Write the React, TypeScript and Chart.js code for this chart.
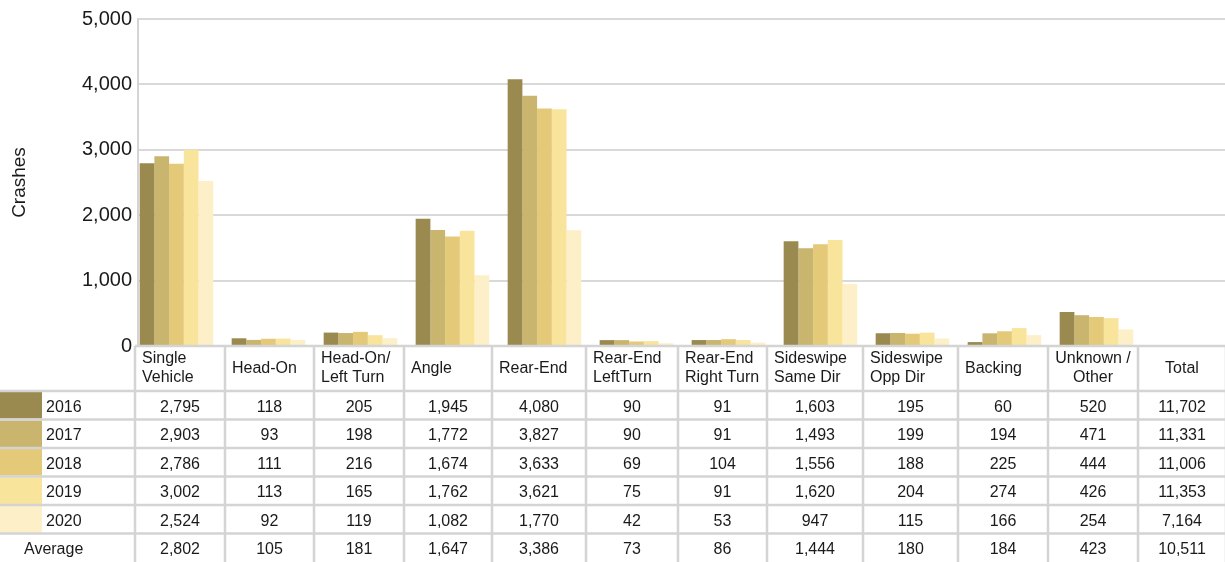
import React, { useEffect, useRef } from "react";
import { Chart, registerables } from "chart.js";

Chart.register(...registerables);

const categories = [
  "Single Vehicle", "Head-On", "Head-On/Left Turn", "Angle", "Rear-End",
  "Rear-End LeftTurn", "Rear-End Right Turn", "Sideswipe Same Dir",
  "Sideswipe Opp Dir", "Backing", "Unknown / Other", "Total",
];
const headerLines = [
  ["Single", "Vehicle"], ["Head-On"], ["Head-On/", "Left Turn"], ["Angle"], ["Rear-End"],
  ["Rear-End", "LeftTurn"], ["Rear-End", "Right Turn"], ["Sideswipe", "Same Dir"],
  ["Sideswipe", "Opp Dir"], ["Backing"], ["Unknown /", "Other"], ["Total"],
];
const years = ["2016", "2017", "2018", "2019", "2020"];
const values2016 = [2795, 118, 205, 1945, 4080, 90, 91, 1603, 195, 60, 520];
const values2017 = [2903, 93, 198, 1772, 3827, 90, 91, 1493, 199, 194, 471];
const values2018 = [2786, 111, 216, 1674, 3633, 69, 104, 1556, 188, 225, 444];
const values2019 = [3002, 113, 165, 1762, 3621, 75, 91, 1620, 204, 274, 426];
const values2020 = [2524, 92, 119, 1082, 1770, 42, 53, 947, 115, 166, 254];
const yearTotals = [11702, 11331, 11006, 11353, 7164];
const averageRow = [2802, 105, 181, 1647, 3386, 73, 86, 1444, 180, 184, 423, 10511];
const yearColors = ["#9a8a50", "#c9b56d", "#e3c978", "#f9e49b", "#fdf0c8"];
const yTicks = [0, 1000, 2000, 3000, 4000, 5000];

// table layout: column border x positions (layout, not data)
const tableEdges = [135, 225, 314, 404, 492, 586, 678, 767, 863, 958, 1048, 1138, 1226];

const seriesValues = [values2016, values2017, values2018, values2019, values2020];
const FONT = '"Liberation Sans", Arial, sans-serif';
const TEXT = "#1a1a1a";
const fmt = (v: number) => v.toLocaleString("en-US");

const tablePlugin = {
  id: "dataTable",
  afterDraw(chart: any) {
    const ctx = chart.ctx;
    const area = chart.chartArea;
    const W = chart.width;
    const H = chart.height;
    const n = categories.length;
    const headerTop = area.bottom;
    const headerH = 45;
    const rowsTop = headerTop + headerH;
    const rowH = (H - rowsTop) / 6;
    ctx.save();
    for (let r = 0; r < years.length; r++) {
      const y0 = rowsTop + r * rowH;
      ctx.fillStyle = yearColors[r];
      ctx.fillRect(0, y0 + 1, 42, rowH - 2);
    }
    ctx.strokeStyle = "#d4d4d4";
    ctx.lineWidth = 2.5;
    ctx.beginPath();
    ctx.moveTo(tableEdges[0], headerTop);
    ctx.lineTo(W, headerTop);
    for (let r = 0; r < 6; r++) {
      const y = rowsTop + r * rowH;
      ctx.moveTo(0, y);
      ctx.lineTo(W, y);
    }
    for (let c = 0; c <= n; c++) {
      const x = tableEdges[c];
      ctx.moveTo(x, headerTop);
      ctx.lineTo(x, H);
    }
    ctx.stroke();
    ctx.fillStyle = TEXT;
    ctx.font = "16px " + FONT;
    ctx.textBaseline = "middle";
    for (let c = 0; c < n; c++) {
      const x0 = tableEdges[c];
      const w = tableEdges[c + 1] - x0;
      const lines = headerLines[c];
      const centered = c >= 10;
      ctx.textAlign = centered ? "center" : "left";
      const tx = centered ? x0 + w / 2 : x0 + 7;
      if (lines.length === 2) {
        ctx.fillText(lines[0], tx, headerTop + 13);
        ctx.fillText(lines[1], tx, headerTop + 32);
      } else {
        ctx.fillText(lines[0], tx, headerTop + 23);
      }
    }
    for (let r = 0; r < 6; r++) {
      const yc = rowsTop + r * rowH + rowH / 2 + 2;
      ctx.textAlign = "left";
      if (r < 5) ctx.fillText(years[r], 46, yc);
      else ctx.fillText("Average", 24, yc);
      for (let c = 0; c < n; c++) {
        const x0 = tableEdges[c];
        const w = tableEdges[c + 1] - x0;
        let v: number;
        if (r < 5) v = c < 11 ? seriesValues[r][c] : yearTotals[r];
        else v = averageRow[c];
        ctx.textAlign = "center";
        ctx.fillText(fmt(v), x0 + w / 2, yc);
      }
    }
    ctx.restore();
  },
};

export default function App() {
  const ref = useRef<HTMLCanvasElement>(null);
  useEffect(() => {
    if (!ref.current) return;
    const chart = new Chart(ref.current, {
      type: "bar",
      data: {
        datasets: years.map((y, i) => ({
          label: y,
          data: seriesValues[i].map((v, k) => ({ x: k, y: v })),
          backgroundColor: yearColors[i],
          borderWidth: 0,
          categoryPercentage: 0.8,
          barPercentage: 1,
        })),
      },
      options: {
        responsive: false,
        animation: false,
        layout: { padding: { top: 19, bottom: 216, left: 0, right: 0 } },
        plugins: { legend: { display: false }, tooltip: { enabled: false } },
        scales: {
          x: { type: "linear", display: false, min: -0.418, max: 11.397, offset: false },
          y: {
            min: 0,
            max: 5000,
            afterBuildTicks: (s: any) => { s.ticks = yTicks.map((v) => ({ value: v })); },
            afterFit: (s: any) => { s.width = 138; },
            ticks: {
              color: TEXT,
              font: { size: 20, family: FONT },
              padding: 6,
              callback: (v: any) => fmt(Number(v)),
            },
            grid: { color: "#d9d9d9", lineWidth: 2, drawTicks: false },
            border: { display: true, color: "#d4d4d4", width: 2 },
            title: {
              display: true,
              text: "Crashes",
              color: TEXT,
              font: { size: 19, family: FONT },
              padding: { top: 8, bottom: 0 },
            },
          },
        },
      },
      plugins: [tablePlugin],
    });
    return () => chart.destroy();
  }, []);
  return (
    <div style={{ position: "absolute", left: 0, top: 0, width: 1225, height: 562, background: "#fff" }}>
      <canvas ref={ref} width={1225} height={562} />
    </div>
  );
}
